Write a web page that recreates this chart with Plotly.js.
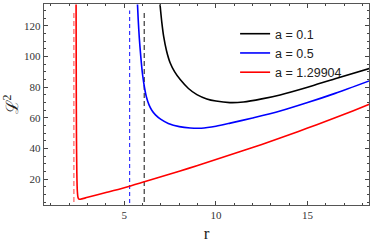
<!DOCTYPE html>
<html><head><meta charset="utf-8">
<script src="https://cdn.plot.ly/plotly-3.0.1.min.js"></script>
<style>html,body{margin:0;padding:0;background:#fff}#plot{width:374px;height:243px}</style>
</head><body><div id="plot"></div>
<script>
// Curves L^2(r)
const rBlack = [6.95,7.05,7.15,7.3,7.5,7.75,8.05,8.5,8.96,9.5,10,10.76,11.5,12.5,13.5,15,16.5,18.4];
const lBlack = [134,122,113,104,96,90,85,79.2,75.2,72.4,71,70,70.4,72.4,75,80,85.6,92.3];
const rBlue = [5.72,5.76,5.82,5.9,6.0,6.1,6.2,6.35,6.5,6.7,7.0,7.4,8.0,8.6,9.2,10,10.78,12,13.5,15,16.5,18.4];
const lBlue = [134,124,112,100,88,80,74,68.5,65,62,59,56.4,54.3,53.4,53.3,54.6,56.6,60,64.5,70,76,84.3];
const rRed = [2.37,2.375,2.38,2.39,2.41,2.44,2.48,2.53,2.6,3,4,5,6,7,8,9,10,11,12,13,14,15,16,17,18,18.4];
const lRed = [134,110,80,50,25,12,8,7,6.95,8.2,11.3,14.5,18.0,21.6,25.2,29,32.9,36.8,40.7,44.8,49,53.4,57.8,62.4,67.1,69];
// Asymptote positions (dashed)
const rDashRed = 2.25, rDashBlue = 5.29, rDashBlack = 6.09;
const dashSpan = [0, 130];
const names = ["a = 0.1", "a = 0.5", "a = 1.29904"];

const traces = [
  {x:[rDashRed,rDashRed], y:dashSpan, mode:'lines', line:{color:'#ff6a6a', width:1.3, dash:'5px,3px'}, showlegend:false, hoverinfo:'skip'},
  {x:[rDashBlue,rDashBlue], y:dashSpan, mode:'lines', line:{color:'#3535ff', width:1.2, dash:'4px,3px'}, showlegend:false, hoverinfo:'skip'},
  {x:[rDashBlack,rDashBlack], y:dashSpan, mode:'lines', line:{color:'#555555', width:1.4, dash:'5px,3px'}, showlegend:false, hoverinfo:'skip'},
  {x:rBlack, y:lBlack, name:names[0], mode:'lines', line:{color:'#000000', width:1.6, shape:'spline', smoothing:0.8}},
  {x:rBlue, y:lBlue, name:names[1], mode:'lines', line:{color:'#0000ff', width:1.6, shape:'spline', smoothing:0.8}},
  {x:rRed, y:lRed, name:names[2], mode:'lines', line:{color:'#ff0000', width:1.6, shape:'spline', smoothing:0.8}}
];

const axisCommon = {
  showgrid:false, zeroline:false, showline:true, mirror:'allticks',
  linecolor:'#555', linewidth:1.2, ticks:'inside', ticklen:4, tickcolor:'#444', tickwidth:1,
  tickfont:{family:'Liberation Serif, Times New Roman, serif', size:11, color:'#333'}
};
const layout = {
  width:374, height:243,
  margin:{l:44, r:5, t:4, b:38},
  paper_bgcolor:'#fff', plot_bgcolor:'#fff',
  showlegend:true,
  legend:{x:0.588, y:0.925, xanchor:'left', yanchor:'top', bgcolor:'rgba(0,0,0,0)',
          font:{family:'Liberation Sans, Arial, sans-serif', size:12.5, color:'#222'},
          itemwidth:30, tracegroupgap:0},
  xaxis:Object.assign({}, axisCommon, {range:[0.62,18.35], tickvals:[5,10,15],
          minor:{dtick:1, tick0:0, ticks:'inside', ticklen:2, tickcolor:'#444'},
          title:{text:'r', font:{family:'Liberation Serif, Times New Roman, serif', size:17, color:'#222'}, standoff:6}}),
  yaxis:Object.assign({}, axisCommon, {range:[3.2,134.3], tickvals:[20,40,60,80,100,120],
          minor:{dtick:5, tick0:0, ticks:'inside', ticklen:2, tickcolor:'#444'},
          title:{text:'ℒ<sup>2</sup>', font:{family:'Liberation Serif, Times New Roman, serif', size:17, color:'#222'}, standoff:6}})
};
Plotly.newPlot('plot', traces, layout, {staticPlot:true, displayModeBar:false});
</script></body></html>
